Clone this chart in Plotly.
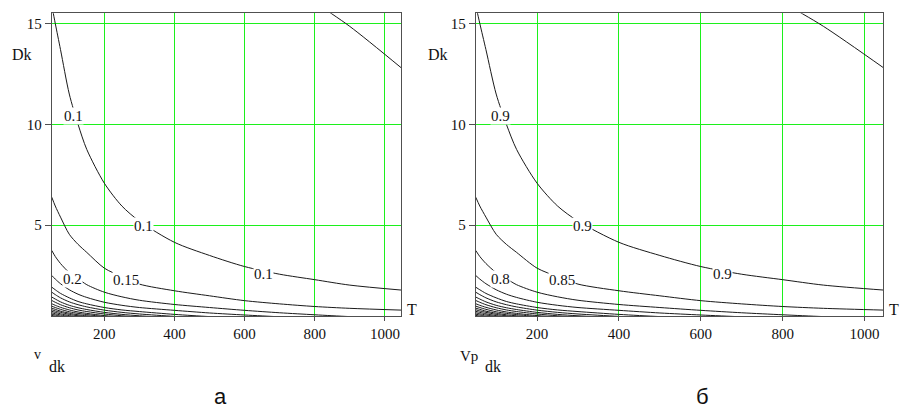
import plotly.graph_objects as go

# ---- data ----
T = [50, 60, 75, 100, 125, 150, 200, 250, 300, 400, 500, 600, 700, 800, 900, 1050]

D_005 = [None, None, None, None, None, None, None, None, None, None, None, 19.6, 17.3, 16.05, 14.85, 12.75]
D_010 = [15.9, 15.0, 13.7, 11.5, 10.0, 8.75, 7.08, 5.95, 5.2, 4.15, 3.5, 2.95, 2.57, 2.3, 2.03, 1.78]
D_015 = [6.39, 5.95, 5.4, 4.55, 4.05, 3.65, 2.87, 2.45, 2.08, 1.75, 1.5, 1.26, 1.1, 0.97, 0.88, 0.79]
D_020 = [3.75, 3.45, 3.1, 2.65, 2.35, 2.05, 1.68, 1.45, 1.28, 1.07, 0.92, 0.78, 0.66, 0.56, 0.47, 0.38]
D_025 = [2.51, 2.33, 2.1, 1.8, 1.58, 1.42, 1.18, 1.03, 0.92, 0.78, 0.65, 0.55, 0.46, 0.38, 0.32, 0.26]
D_030 = [1.93, 1.8, 1.62, 1.4, 1.22, 1.1, 0.92, 0.8, 0.72, 0.58, 0.47, 0.39, 0.32, None, None, None]
D_035 = [1.68, 1.56, 1.4, 1.2, 1.06, 0.95, 0.79, 0.68, 0.6, 0.48, 0.39, 0.32, None, None, None, None]
D_040 = [1.44, 1.34, 1.2, 1.03, 0.91, 0.82, 0.68, 0.58, 0.51, 0.41, 0.33, None, None, None, None, None]
D_045 = [1.27, 1.18, 1.06, 0.91, 0.8, 0.72, 0.6, 0.51, 0.45, 0.36, None, None, None, None, None, None]
D_050 = [1.11, 1.03, 0.93, 0.8, 0.7, 0.63, 0.52, 0.45, 0.39, 0.31, None, None, None, None, None, None]
D_055 = [0.99, 0.92, 0.83, 0.71, 0.63, 0.57, 0.47, 0.4, 0.35, None, None, None, None, None, None, None]
D_060 = [0.89, 0.83, 0.74, 0.64, 0.56, 0.51, 0.42, 0.36, None, None, None, None, None, None, None, None]
D_065 = [0.81, 0.75, 0.68, 0.58, 0.51, 0.46, 0.38, None, None, None, None, None, None, None, None, None]
D_070 = [0.73, 0.68, 0.61, 0.52, 0.46, 0.42, 0.34, None, None, None, None, None, None, None, None, None]
D_075 = [0.66, 0.61, 0.55, 0.47, 0.42, 0.38, None, None, None, None, None, None, None, None, None, None]
D_080 = [0.59, 0.55, 0.49, 0.42, 0.37, None, None, None, None, None, None, None, None, None, None, None]
D_085 = [0.53, 0.49, 0.44, 0.38, None, None, None, None, None, None, None, None, None, None, None, None]

contour_lines = [D_005, D_010, D_015, D_020, D_025, D_030, D_035, D_040, D_045,
                 D_050, D_055, D_060, D_065, D_070, D_075, D_080, D_085]

# contour labels (position T, D and text) for the two panels
label_T = [111, 311, 653, 110, 262]
label_D = [10.43, 4.97, 2.6, 2.35, 2.26]
labels_a = ["0.1", "0.1", "0.1", "0.2", "0.15"]
labels_b = ["0.9", "0.9", "0.9", "0.8", "0.85"]

x_ticks = [200, 400, 600, 800, 1000]
y_ticks = [5, 10, 15]
x_range = [50, 1046]
y_range = [0.5, 15.5]

# ---- figure ----
SERIF = "Liberation Serif"
SANS = "Liberation Sans"
GRID = "#1cf01c"
FRAME = "#505050"
LINE = "#1a1a1a"

fig = go.Figure()
for xa, ya in (("x", "y"), ("x2", "y2")):
    for D in contour_lines:
        fig.add_trace(go.Scatter(x=T, y=D, mode="lines", xaxis=xa, yaxis=ya,
                                 line=dict(color=LINE, width=1, shape="spline", smoothing=0.8),
                                 hoverinfo="skip", showlegend=False, connectgaps=False))

annotations = []
for xa, ya, labs in (("x", "y", labels_a), ("x2", "y2", labels_b)):
    for t, d, s in zip(label_T, label_D, labs):
        annotations.append(dict(x=t, y=d, xref=xa, yref=ya, text=s, showarrow=False,
                                bgcolor="white", borderpad=0,
                                font=dict(family=SERIF, size=15, color="#111")))

def paper_text(x, y, s, size, family=SERIF):
    annotations.append(dict(x=x, y=y, xref="paper", yref="paper", text=s, showarrow=False,
                            xanchor="center", yanchor="middle",
                            font=dict(family=family, size=size, color="#111")))

paper_text(0.0244, 0.8676, "Dk", 16)
paper_text(0.4856, 0.8676, "Dk", 16)
paper_text(0.4563, 0.2426, "T", 16)
paper_text(0.9895, 0.2426, "T", 16)
paper_text(0.0420, 0.1310, "v", 14)
paper_text(0.0631, 0.1029, "dk", 16)
paper_text(0.5194, 0.1270, "Vp", 15)
paper_text(0.5465, 0.1029, "dk", 16)
paper_text(0.2444, 0.0270, "а", 22, SANS)
paper_text(0.7780, 0.0282, "б", 22, SANS)

def xaxis(domain, anchor):
    return dict(domain=domain, anchor=anchor, range=x_range, tickvals=x_ticks,
                showgrid=True, gridcolor=GRID, gridwidth=1.3, zeroline=False,
                showline=True, mirror=True, linecolor=FRAME, linewidth=1,
                ticks="outside", ticklen=4, tickcolor=FRAME,
                tickfont=dict(family=SERIF, size=15, color="#111"))

def yaxis(anchor):
    return dict(domain=[0.2255, 0.9674], anchor=anchor, range=y_range, tickvals=y_ticks,
                showgrid=True, gridcolor=GRID, gridwidth=1.3, zeroline=False,
                showline=True, mirror=True, linecolor=FRAME, linewidth=1,
                ticks="outside", ticklen=6, tickcolor=FRAME,
                tickfont=dict(family=SERIF, size=15, color="#111"))

fig.update_layout(
    width=903, height=408,
    margin=dict(l=0, r=0, t=0, b=0),
    paper_bgcolor="white", plot_bgcolor="white",
    xaxis=xaxis([0.0573, 0.4441], "y"),
    yaxis=yaxis("x"),
    xaxis2=xaxis([0.5268, 0.9782], "y2"),
    yaxis2=yaxis("x2"),
    annotations=annotations,
    showlegend=False,
)

fig.write_html("out.html", config={"displayModeBar": False},
               post_script="document.body.style.margin='0px';")
